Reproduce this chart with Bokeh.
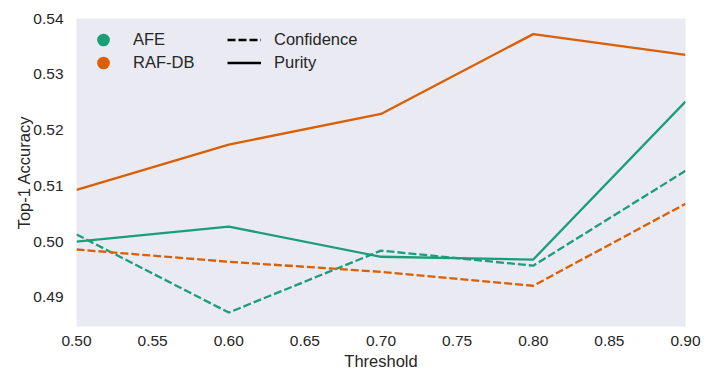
from bokeh.plotting import figure
from bokeh.models import Legend, LegendItem, Range1d, FixedTicker, NumeralTickFormatter
from bokeh.embed import file_html
from bokeh.resources import INLINE
import math

thresholds = [0.5, 0.6, 0.7, 0.8, 0.9]
afe_purity = [0.5000, 0.5027, 0.4973, 0.4968, 0.5251]
afe_confidence = [0.5013, 0.4873, 0.4984, 0.4957, 0.5127]
raf_purity = [0.5093, 0.5174, 0.5229, 0.5372, 0.5335]
raf_confidence = [0.4986, 0.4964, 0.4946, 0.4921, 0.5068]
x_ticks = [0.5, 0.55, 0.6, 0.65, 0.7, 0.75, 0.8, 0.85, 0.9]
y_ticks = [0.49, 0.50, 0.51, 0.52, 0.53, 0.54]

GREEN = "#1b9e77"
ORANGE = "#d95f02"
TEXT = "#262626"
FONT = "Liberation Sans"

p = figure(width=711, height=379, output_backend="svg", toolbar_location=None,
           x_range=Range1d(0.5, 0.9), y_range=Range1d(0.4848, 0.54),
           min_border_left=76, min_border_top=18, min_border_right=26, min_border_bottom=53,
           background_fill_color="#eaeaf2", border_fill_color="white")
p.outline_line_color = None
p.grid.visible = False

for ax in (p.xaxis[0], p.yaxis[0]):
    ax.axis_line_color = None
    ax.major_tick_line_color = None
    ax.minor_tick_line_color = None
    ax.major_label_text_font = FONT
    ax.major_label_text_font_size = "15.5px"
    ax.major_label_text_color = TEXT
    ax.axis_label_text_font = FONT
    ax.axis_label_text_font_size = "16.5px"
    ax.axis_label_text_font_style = "normal"
    ax.axis_label_text_color = TEXT

p.xaxis.ticker = FixedTicker(ticks=x_ticks)
p.yaxis.ticker = FixedTicker(ticks=y_ticks)
p.xaxis.formatter = NumeralTickFormatter(format="0.00")
p.yaxis.formatter = NumeralTickFormatter(format="0.00")
p.xaxis.axis_label = "Threshold"
p.yaxis.axis_label = "Top-1 Accuracy"
p.xaxis.major_label_standoff = 3
p.yaxis.major_label_standoff = 7
p.xaxis.axis_label_standoff = 3
p.yaxis.axis_label_standoff = -3

lw = 2.3
dash = "8 3"
p.line(thresholds, afe_purity, line_color=GREEN, line_width=lw)
p.line(thresholds, afe_confidence, line_color=GREEN, line_width=lw, line_dash=dash)
p.line(thresholds, raf_purity, line_color=ORANGE, line_width=lw)
p.line(thresholds, raf_confidence, line_color=ORANGE, line_width=lw, line_dash=dash)

nan = [math.nan]
r_afe = p.scatter(nan, nan, fill_color=GREEN, line_color=GREEN, line_width=3.5, size=12)
r_raf = p.scatter(nan, nan, fill_color=ORANGE, line_color=ORANGE, line_width=3.5, size=12)
r_conf = p.line(nan, nan, line_color="black", line_width=2.4, line_dash=dash)
r_pur = p.line(nan, nan, line_color="black", line_width=2.4)


def make_legend(items, loc):
    lg = Legend(items=items, location=loc)
    lg.background_fill_alpha = 0
    lg.border_line_color = None
    lg.label_text_font = FONT
    lg.label_text_font_size = "16.5px"
    lg.label_text_color = TEXT
    lg.glyph_width = 34
    lg.glyph_height = 23
    lg.label_height = 23
    lg.label_standoff = 13
    lg.spacing = 0
    lg.padding = 0
    lg.margin = 0
    return lg


leg_a = make_legend([LegendItem(label="AFE", renderers=[r_afe]),
                     LegendItem(label="RAF-DB", renderers=[r_raf])], (10, 252))
leg_b = make_legend([LegendItem(label="Confidence", renderers=[r_conf]),
                     LegendItem(label="Purity", renderers=[r_pur])], (151, 252))
p.add_layout(leg_a)
p.add_layout(leg_b)

open("out.html", "w").write(file_html(p, INLINE))
